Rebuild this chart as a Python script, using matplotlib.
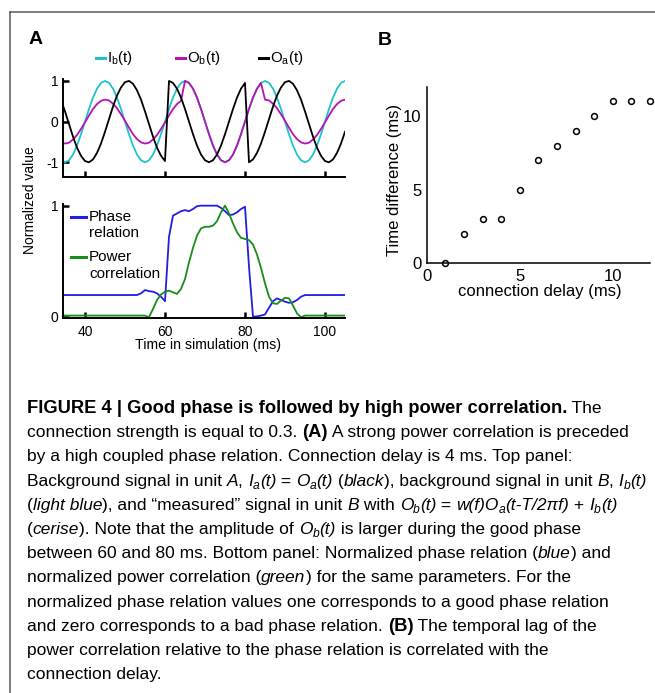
import numpy as np
import matplotlib
matplotlib.use('Agg')
import matplotlib.pyplot as plt
from matplotlib import font_manager
from matplotlib.lines import Line2D

W, H = 655, 693

# simulation time (ms), one sample per ms
t_ms = np.arange(34, 106)

# top panel: background signals and measured signal
ib = [-0.95, -1.00, -0.95, -0.81, -0.59, -0.31, 0.00, 0.31, 0.59, 0.81,
      0.95, 1.00, 0.95, 0.81, 0.59, 0.31, 0.00, -0.31, -0.59, -0.81,
      -0.95, -1.00, -0.95, -0.81, -0.59, -0.31, 0.00, 0.31, 0.59, 0.81,
      0.95, 1.00, 0.95, 0.81, 0.59, 0.31, 0.00, -0.31, -0.59, -0.81,
      -0.95, -1.00, -0.95, -0.81, -0.59, -0.31, 0.00, 0.31, 0.59, 0.81,
      0.95, 1.00, 0.95, 0.81, 0.59, 0.31, 0.00, -0.31, -0.59, -0.81,
      -0.95, -1.00, -0.95, -0.81, -0.59, -0.31, 0.00, 0.31, 0.59, 0.81,
      0.95, 1.00]
ob = [-0.51, -0.54, -0.52, -0.44, -0.33, -0.18, -0.02, 0.15, 0.31, 0.43,
      0.51, 0.54, 0.52, 0.44, 0.33, 0.18, 0.02, -0.15, -0.31, -0.43,
      -0.51, -0.54, -0.52, -0.44, -0.33, -0.18, -0.02, 0.15, 0.31, 0.43,
      0.51, 1.00, 0.95, 0.81, 0.59, 0.31, 0.00, -0.31, -0.59, -0.81,
      -0.95, -1.00, -0.95, -0.81, -0.59, -0.31, 0.00, 0.31, 0.59, 0.81,
      0.95, 0.54, 0.52, 0.44, 0.33, 0.18, 0.02, -0.15, -0.31, -0.43,
      -0.51, -0.54, -0.52, -0.44, -0.33, -0.18, -0.02, 0.15, 0.31, 0.43,
      0.51, 0.54]
oa = [0.54, 0.25, -0.06, -0.37, -0.64, -0.84, -0.97, -1.00, -0.93, -0.77,
      -0.54, -0.25, 0.06, 0.37, 0.64, 0.84, 0.97, 1.00, 0.93, 0.77,
      0.54, 0.25, -0.06, -0.37, -0.64, -0.84, -0.97, 1.00, 0.95, 0.81,
      0.59, 0.31, 0.00, -0.31, -0.59, -0.81, -0.95, -1.00, -0.95, -0.81,
      -0.59, -0.31, 0.00, 0.31, 0.59, 0.81, 0.95, -1.00, -0.93, -0.77,
      -0.54, -0.25, 0.06, 0.37, 0.64, 0.84, 0.97, 1.00, 0.93, 0.77,
      0.54, 0.25, -0.06, -0.37, -0.64, -0.84, -0.97, -1.00, -0.93, -0.77,
      -0.54, -0.25]

# bottom panel: normalized phase relation and power correlation
phase_rel = [0.195, 0.195, 0.195, 0.195, 0.195, 0.195, 0.195, 0.195, 0.195, 0.195,
             0.195, 0.195, 0.195, 0.195, 0.195, 0.195, 0.195, 0.195, 0.195, 0.195,
             0.21, 0.24, 0.23, 0.225, 0.21, 0.18, 0.14, 0.72, 0.91, 0.93,
             0.95, 0.96, 0.95, 0.97, 0.995, 1.0, 1.0, 1.0, 1.0, 1.0,
             0.98, 0.95, 0.915, 0.92, 0.94, 0.97, 0.99, 0.45, 0.0, 0.003,
             0.01, 0.02, 0.08, 0.14, 0.165, 0.15, 0.135, 0.125, 0.13, 0.15,
             0.18, 0.195, 0.195, 0.195, 0.195, 0.195, 0.195, 0.195, 0.195, 0.195,
             0.195, 0.195]
power_corr = [0.01, 0.01, 0.01, 0.01, 0.01, 0.01, 0.01, 0.01, 0.01, 0.01,
              0.01, 0.01, 0.01, 0.01, 0.01, 0.01, 0.01, 0.01, 0.01, 0.01,
              0.01, 0.01, -0.005, 0.07, 0.15, 0.20, 0.225, 0.235, 0.22, 0.205,
              0.25, 0.34, 0.49, 0.62, 0.73, 0.795, 0.81, 0.81, 0.82, 0.86,
              0.94, 1.0, 0.93, 0.84, 0.76, 0.71, 0.70, 0.69, 0.65, 0.56,
              0.44, 0.30, 0.18, 0.12, 0.115, 0.145, 0.17, 0.165, 0.10, 0.03,
              -0.005, 0.01, 0.01, 0.01, 0.01, 0.01, 0.01, 0.01, 0.01, 0.01,
              0.01, 0.01]

# panel B
delay_ms = [1, 2, 3, 4, 5, 6, 7, 8, 9, 10, 11, 12]
lag_ms = [0, 2, 3, 3, 5, 7, 8, 9, 10, 11, 11, 11]

CYAN = '#1fc3c8'
MAGENTA = '#b414b4'
BLUE = '#1e1ee6'
GREEN = '#1a8c1a'

plt.rcParams['font.family'] = ['Liberation Sans', 'DejaVu Sans']
plt.rcParams['axes.unicode_minus'] = False

fig = plt.figure(figsize=(W / 100, H / 100), dpi=100)


def box(l, t, r, b):
    return [l / W, 1 - b / H, (r - l) / W, (b - t) / H]


def fx(x):
    return x / W


def fy(y):
    return 1 - y / H


def matlab_style(ax, lw=1.4, size=10):
    for s in ('top', 'right'):
        ax.spines[s].set_visible(False)
    for s in ('left', 'bottom'):
        ax.spines[s].set_linewidth(lw)
    ax.tick_params(direction='in', length=4, width=1.8, labelsize=size, pad=3.5)


# ---- panel A, top: signals
ax1 = fig.add_axes(box(63.4, 79.3, 345, 176.5))
matlab_style(ax1)
ax1.plot(t_ms, ib, color=CYAN, lw=1.3)
ax1.plot(t_ms, ob, color=MAGENTA, lw=1.3)
ax1.plot(t_ms, oa, color='black', lw=1.3)
ax1.set_xlim(34.6, 105)
ax1.set_ylim(-1.35, 1.04)
ax1.set_xticks([40, 60, 80, 100])
ax1.set_xticklabels([])
ax1.set_yticks([-1, 0, 1])

for x0, color, label in [(95.7, CYAN, r'$\mathregular{I_b(t)}$'),
                         (175.7, MAGENTA, r'$\mathregular{O_b(t)}$'),
                         (259.0, 'black', r'$\mathregular{O_a(t)}$')]:
    fig.add_artist(Line2D([fx(x0), fx(x0 + 9)], [fy(57.7), fy(57.7)], color=color, lw=2.2))
    fig.text(fx(x0 + 11.5), fy(57.7), label, fontsize=10.8, va='center', ha='left')

# ---- panel A, bottom: phase relation vs power correlation
ax2 = fig.add_axes(box(63.4, 204, 345, 317.8))
matlab_style(ax2)
ax2.plot(t_ms, phase_rel, color=BLUE, lw=1.3)
ax2.plot(t_ms, power_corr, color=GREEN, lw=1.3)
ax2.set_xlim(34.6, 105)
ax2.set_ylim(-0.01, 1.015)
ax2.set_xticks([40, 60, 80, 100])
ax2.set_yticks([0, 1])
ax2.tick_params(axis='x', pad=5.5)

for y0, color, lines in [(216.7, BLUE, ('Phase', 'relation')),
                         (257.3, GREEN, ('Power', 'correlation'))]:
    fig.add_artist(Line2D([fx(71), fx(86)], [fy(y0), fy(y0)], color=color, lw=2.2))
    fig.text(fx(89), fy(y0), lines[0], fontsize=11, va='center', ha='left')
    fig.text(fx(89), fy(y0 + 16.6), lines[1], fontsize=11, va='center', ha='left')

fig.text(fx(208.3), fy(345), 'Time in simulation (ms)', fontsize=10.2, ha='center', va='center')
fig.text(fx(30), fy(200), 'Normalized value', fontsize=10, ha='center', va='center', rotation=90)

# ---- panel B: lag vs delay
ax3 = fig.add_axes(box(426.7, 86.7, 650, 263.3))
matlab_style(ax3, lw=1.1, size=12)
ax3.tick_params(length=0, pad=4)
ax3.plot(delay_ms, lag_ms, 'o', mfc='none', mec='black', ms=4.2, mew=1.1, clip_on=False)
ax3.set_xlim(0, 12)
ax3.set_ylim(0, 12)
ax3.set_xticks([0, 5, 10])
ax3.set_yticks([0, 5, 10])
fig.text(fx(540), fy(291.7), 'connection delay (ms)', fontsize=12, ha='center', va='center')
fig.text(fx(395), fy(179.5), 'Time difference (ms)', fontsize=12, ha='center', va='center', rotation=90)

fig.text(fx(29), fy(44), 'A', fontsize=14, fontweight='bold', va='baseline')
fig.text(fx(378), fy(45), 'B', fontsize=14, fontweight='bold', va='baseline')

# frame around the figure block
fig.add_artist(Line2D([fx(10), fx(10)], [0, fy(12)], color='#5a5a5a', lw=1.1))
fig.add_artist(Line2D([fx(10), 1], [fy(12), fy(12)], color='#5a5a5a', lw=1.1))

# ---- caption
names = {f.name for f in font_manager.fontManager.ttflist}
cap_family = 'Liberation Sans Narrow' if 'Liberation Sans Narrow' in names else 'Liberation Sans'
cap_size = 12.5
bold_size = 13.2

caption = [
    [('b', 'FIGURE 4 | Good phase is followed by high power correlation.'), ('n', ' The')],
    [('n', 'connection strength is equal to 0.3. '), ('b', '(A)'),
     ('n', ' A strong power correlation is preceded')],
    [('n', 'by a high coupled phase relation. Connection delay is 4 ms. Top panel:')],
    [('n', 'Background signal in unit '), ('i', 'A'), ('n', ', '), ('i', 'I'), ('s', 'a'), ('i', '(t)'),
     ('n', ' = '), ('i', 'O'), ('s', 'a'), ('i', '(t)'), ('n', ' ('), ('i', 'black'),
     ('n', '), background signal in unit '), ('i', 'B'), ('n', ', '), ('i', 'I'), ('s', 'b'), ('i', '(t)')],
    [('n', '('), ('i', 'light blue'), ('n', '), and \u201cmeasured\u201d signal in unit '), ('i', 'B'),
     ('n', ' with '), ('i', 'O'), ('s', 'b'), ('i', '(t)'), ('n', ' = '), ('i', 'w(f)O'), ('s', 'a'),
     ('i', '(t-T/2\u03c0f)'), ('n', ' + '), ('i', 'I'), ('s', 'b'), ('i', '(t)')],
    [('n', '('), ('i', 'cerise'), ('n', '). Note that the amplitude of '), ('i', 'O'), ('s', 'b'),
     ('i', '(t)'), ('n', ' is larger during the good phase')],
    [('n', 'between 60 and 80 ms. Bottom panel: Normalized phase relation ('), ('i', 'blue'), ('n', ') and')],
    [('n', 'normalized power correlation ('), ('i', 'green'), ('n', ') for the same parameters. For the')],
    [('n', 'normalized phase relation values one corresponds to a good phase relation')],
    [('n', 'and zero corresponds to a bad phase relation. '), ('b', '(B)'), ('n', ' The temporal lag of the')],
    [('n', 'power correlation relative to the phase relation is correlated with the')],
    [('n', 'connection delay.')],
]

renderer = fig.canvas.get_renderer()


def seg_props(kind):
    size = {'s': cap_size * 0.7, 'b': bold_size}.get(kind, cap_size)
    style = 'italic' if kind in ('i', 's') else 'normal'
    weight = 'bold' if kind == 'b' else 'normal'
    return dict(fontsize=size, family=cap_family, style=style, weight=weight)


def advance(text, props):
    a = fig.text(0, 0, '|' + text + '|', **props)
    b = fig.text(0, 0, '||', **props)
    w = a.get_window_extent(renderer).width - b.get_window_extent(renderer).width
    a.remove()
    b.remove()
    return w


base0, step = 413.0, 24.2
for i, line in enumerate(caption):
    x = 27.0
    y = base0 + i * step
    for kind, text in line:
        props = seg_props(kind)
        dy = 3.0 if kind == 's' else 0.0
        fig.text(fx(x), fy(y + dy), text, va='baseline', ha='left', **props)
        x += advance(text, props)

fig.savefig('out.png', dpi=100)
